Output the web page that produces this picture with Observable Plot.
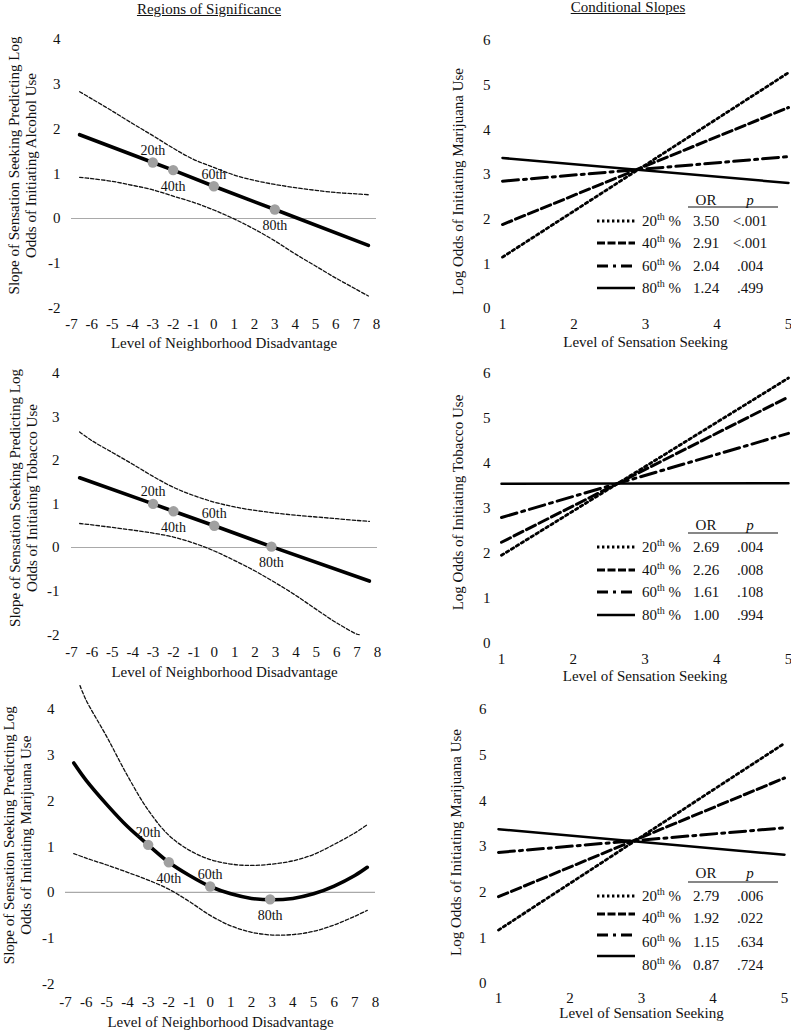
<!DOCTYPE html>
<html>
<head>
<meta charset="utf-8">
<script src="https://cdn.jsdelivr.net/npm/d3@7"></script>
<script src="https://cdn.jsdelivr.net/npm/@observablehq/plot@0.6"></script>
<style>
  html, body { margin: 0; padding: 0; background: #fff; }
  #root { position: relative; width: 791px; height: 1030px; overflow: hidden; background: #fff;
          font-family: "Liberation Serif", "Times New Roman", Times, serif; color: #111; }
  .colhead { position: absolute; font-size: 15px; line-height: 15px; text-decoration: underline;
             transform: translateX(-50%); white-space: nowrap; }
</style>
</head>
<body>
<div id="root"></div>
<script>
// ================= DATA =================
const pctLabels = ["20th", "40th", "60th", "80th"];
const pctNums = ["20", "40", "60", "80"];

const xTicksLeft = [-7, -6, -5, -4, -3, -2, -1, 0, 1, 2, 3, 4, 5, 6, 7, 8];
const yTicksLeft = [-2, -1, 0, 1, 2, 3, 4];
const xTicksRight = [1, 2, 3, 4, 5];
const yTicksRight = [0, 1, 2, 3, 4, 5, 6];

const headLeft = "Regions of Significance";
const headRight = "Conditional Slopes";
const xTitleLeft = "Level of Neighborhood Disadvantage";
const xTitleRight = "Level of Sensation Seeking";

// --- Regions of significance: Alcohol ---
const alcTitle = "Slope of Sensation Seeking Predicting Log\nOdds of Initiating Alcohol Use";
const alcMainX = [-6.6, -3, -2, 0, 3, 7.6];
const alcMainY = [1.87, 1.25, 1.08, 0.72, 0.2, -0.6];
const alcPtX = [-3, -2, 0, 3];
const alcPtY = [1.25, 1.08, 0.72, 0.2];
const alcUpX = [-6.6, -6, -5, -4, -3, -2, -1, 0, 1, 2, 3, 4, 5, 6, 7, 7.6];
const alcUpY = [2.83, 2.67, 2.40, 2.12, 1.85, 1.57, 1.32, 1.14, 0.97, 0.85, 0.76, 0.69, 0.63, 0.58, 0.55, 0.53];
const alcLoX = [-6.6, -6, -5, -4, -3, -2, -1, 0, 1, 2, 3, 4, 5, 6, 7, 7.6];
const alcLoY = [0.92, 0.89, 0.83, 0.74, 0.64, 0.50, 0.36, 0.19, -0.01, -0.24, -0.5, -0.79, -1.06, -1.33, -1.58, -1.73];

// --- Regions of significance: Tobacco ---
const tobTitle = "Slope of Sensation Seeking Predicting Log\nOdds of Initiating Tobacco Use";
const tobMainX = [-6.6, -3, -2, 0, 2.8, 7.6];
const tobMainY = [1.6, 1.0, 0.83, 0.5, 0.02, -0.77];
const tobPtX = [-3, -2, 0, 2.8];
const tobPtY = [1.0, 0.83, 0.5, 0.02];
const tobUpX = [-6.6, -6, -5, -4, -3, -2, -1, 0, 1, 2, 3, 4, 5, 6, 7, 7.6];
const tobUpY = [2.65, 2.45, 2.18, 1.91, 1.63, 1.38, 1.19, 1.04, 0.93, 0.85, 0.79, 0.74, 0.70, 0.66, 0.62, 0.60];
const tobLoX = [-6.6, -6, -5, -4, -3, -2, -1, 0, 1, 2, 3, 4, 5, 6, 7, 7.1];
const tobLoY = [0.55, 0.52, 0.46, 0.40, 0.33, 0.24, 0.10, -0.08, -0.30, -0.54, -0.81, -1.10, -1.42, -1.73, -1.99, -2.0];

// --- Regions of significance: Marijuana ---
const marTitle = "Slope of Sensation Seeking Predicting Log\nOdds of Initiating Marijuana Use";
const marMainX = [-6.6, -6, -5, -4, -3, -2, -1, 0, 1, 2, 3, 4, 5, 6, 7, 7.6];
const marMainY = [2.83, 2.45, 1.92, 1.44, 1.04, 0.66, 0.37, 0.13, -0.03, -0.13, -0.16, -0.13, -0.03, 0.14, 0.37, 0.55];
const marPtX = [-3, -2, 0, 2.9];
const marPtY = [1.04, 0.66, 0.13, -0.15];
const marUpX = [-6.3, -6, -5, -4, -3, -2, -1, 0, 1, 2, 3, 4, 5, 6, 7, 7.6];
const marUpY = [4.52, 4.2, 3.4, 2.55, 1.8, 1.25, 0.92, 0.72, 0.62, 0.59, 0.62, 0.69, 0.83, 1.05, 1.3, 1.48];
const marLoX = [-6.6, -6, -5, -4, -3, -2, -1, 0, 1, 2, 3, 4, 5, 6, 7, 7.6];
const marLoY = [0.85, 0.75, 0.6, 0.44, 0.27, 0.07, -0.2, -0.5, -0.73, -0.87, -0.93, -0.92, -0.85, -0.71, -0.52, -0.39];

// --- Conditional slopes (x = 1 and x = 5 endpoints per percentile) ---
const slopeX = [1, 5];
const csMarATitle = "Log Odds of Initiating Marijuana Use";
const csMarA = [[1.15, 5.28], [1.88, 4.5], [2.85, 3.40], [3.37, 2.81]];
const csMarA_OR = ["3.50", "2.91", "2.04", "1.24"];
const csMarA_p = ["<.001", "<.001", ".004", ".499"];

const csTobTitle = "Log Odds of Initiating Tobacco Use";
const csTob = [[1.96, 5.9], [2.25, 5.48], [2.8, 4.67], [3.55, 3.56]];
const csTob_OR = ["2.69", "2.26", "1.61", "1.00"];
const csTob_p = [".004", ".008", ".108", ".994"];

const csMarBTitle = "Log Odds of Initiating Marijuana Use";
const csMarB = [[1.17, 5.26], [1.9, 4.5], [2.87, 3.41], [3.38, 2.82]];
const csMarB_OR = ["2.79", "1.92", "1.15", "0.87"];
const csMarB_p = [".006", ".022", ".634", ".724"];

// ================= STYLE / LAYOUT =================
const FONT = '"Liberation Serif", "Times New Roman", Times, serif';
const INK = "#111";
const lineStyles = [
  {dash: "2.6 3.2", width: 2.8},
  {dash: "10 4", width: 3},
  {dash: "16 5 3 5", width: 3},
  {dash: null, width: 2.5}
];
const legendDash = ["2.4 2.6", "8 2.5", "11 5 3 5", null];

const layoutLeft = [
  {top: 0,   left: 0, w: 395, h: 350, ml: 71, mr: 19, mt: 16.4, mb: 42.4, xPad: 10, yPad: 11, xtDy: 35, ytDx: -49, ytDy: 3},
  {top: 340, left: 0, w: 395, h: 350, ml: 71, mr: 18, mt: 10.8, mb: 55.8, xPad: 12, yPad: 12, xtDy: 37.5, ytDx: -48, ytDy: 5},
  {top: 680, left: 0, w: 395, h: 350, ml: 65, mr: 20, mt: 6, mb: 46.5, xPad: 12.5, yPad: 11, xtDy: 38.5, ytDx: -48, ytDy: 0}
];
const layoutRight = [
  {top: 0,   left: 395, w: 396, h: 350, ml: 107, mr: 3, mt: 40, mb: 42, xPad: 10, yPad: 12, xtDy: 34, ytDx: -45, ytDy: 7,
   leg: {headY: 200, ulY: 207, rowY: [221, 243, 266, 288], sampleY: [221, 243, 266, 288]}},
  {top: 340, left: 395, w: 396, h: 350, ml: 106, mr: 3, mt: 33, mb: 47, xPad: 10.3, yPad: 11, xtDy: 32.5, ytDx: -44, ytDy: -6,
   leg: {headY: 185, ulY: 193, rowY: [207, 230, 252, 275], sampleY: [207, 230, 252, 275]}},
  {top: 680, left: 395, w: 396, h: 350, ml: 103, mr: 7, mt: 29, mb: 47, xPad: 8.5, yPad: 12, xtDy: 30, ytDx: -43, ytDy: -4,
   leg: {headY: 193, ulY: 202, rowY: [216, 238, 262, 285], sampleY: [216, 234, 255, 276]}}
];
const legX = {sx1: 202, sx2: 240, labX: 247, orX: 311, pX: 355, ulX1: 293, ulX2: 383};
const headPos = [{cx: 209, top: 2}, {cx: 628, top: 0}];

// ================= DRAWING =================
const root = document.getElementById("root");

function mount(svg, left, top) {
  svg.style.position = "absolute";
  svg.style.left = left + "px";
  svg.style.top = top + "px";
  svg.style.overflow = "visible";
  svg.style.background = "transparent";
  svg.style.maxWidth = "none";
  root.appendChild(svg);
  return svg;
}
function pairs(xs, ys) { return xs.map((x, i) => ({x, y: ys[i]})); }
const baseStyle = {fontFamily: FONT, fontSize: "15px", color: INK, background: "transparent", overflow: "visible"};

function titleMarks(xTitle, yTitle, L) {
  return [
    Plot.text([xTitle], {text: t => t, frameAnchor: "bottom", textAnchor: "middle", lineAnchor: "middle", dy: L.xtDy, fill: INK}),
    Plot.text([yTitle], {text: t => t, frameAnchor: "left", textAnchor: "middle", lineAnchor: "middle", rotate: -90,
      dx: L.ytDx, dy: L.ytDy, lineHeight: 1.13, fill: INK})
  ];
}

function regionPanel(d, L) {
  const pts = d.ptX.map((x, i) => ({x, y: d.ptY[i], label: pctLabels[i], above: i % 2 === 0}));
  const curve = d.curved ? "catmull-rom" : "linear";
  return Plot.plot({
    width: L.w, height: L.h,
    marginLeft: L.ml, marginRight: L.mr, marginTop: L.mt, marginBottom: L.mb,
    x: {domain: [-7, 8], ticks: xTicksLeft, tickSize: 0, tickPadding: L.xPad, tickFormat: v => String(v), label: null},
    y: {domain: [-2, 4.5], ticks: yTicksLeft, tickSize: 0, tickPadding: L.yPad, tickFormat: v => String(v), label: null},
    style: baseStyle,
    marks: [
      Plot.ruleY([0], {stroke: "#a9a9a9", strokeWidth: 1.2}),
      Plot.line(pairs(d.upX, d.upY), {x: "x", y: "y", stroke: INK, strokeWidth: 1.3, strokeDasharray: "3.5 2", curve: "catmull-rom"}),
      Plot.line(pairs(d.loX, d.loY), {x: "x", y: "y", stroke: INK, strokeWidth: 1.3, strokeDasharray: "3.5 2", curve: "catmull-rom"}),
      Plot.line(pairs(d.mainX, d.mainY), {x: "x", y: "y", stroke: "#000", strokeWidth: 3.6, curve}),
      Plot.dot(pts, {x: "x", y: "y", r: 5.2, fill: "#a0a0a0", stroke: "none"}),
      Plot.text(pts.filter(p => p.above), {x: "x", y: "y", text: "label", dy: -12, fontSize: 14, fill: INK}),
      Plot.text(pts.filter(p => !p.above), {x: "x", y: "y", text: "label", dy: 16, fontSize: 14, fill: INK}),
      ...titleMarks(xTitleLeft, d.title, L)
    ]
  });
}

function slopePanel(d, L) {
  const series = d.lines.map((ys, i) => slopeX.map((x, j) => ({x, y: ys[j], pct: pctLabels[i]})));
  const svg = Plot.plot({
    width: L.w, height: L.h,
    marginLeft: L.ml, marginRight: L.mr, marginTop: L.mt, marginBottom: L.mb,
    x: {domain: [1, 5], ticks: xTicksRight, tickSize: 0, tickPadding: L.xPad, tickFormat: v => String(v), label: null},
    y: {domain: [0, 6], ticks: yTicksRight, tickSize: 0, tickPadding: L.yPad, tickFormat: v => String(v), label: null},
    style: baseStyle,
    marks: [
      ...series.map((s, i) => Plot.line(s, {x: "x", y: "y", stroke: "#000",
        strokeWidth: lineStyles[i].width, strokeDasharray: lineStyles[i].dash || undefined})),
      ...titleMarks(xTitleRight, d.title, L)
    ]
  });
  // legend table
  const G = L.leg;
  const g = d3.select(svg).append("g").attr("font-family", FONT).attr("font-size", 15).attr("fill", INK);
  g.append("text").attr("x", legX.orX).attr("y", G.headY + 5).attr("text-anchor", "middle").text("OR");
  g.append("text").attr("x", legX.pX).attr("y", G.headY + 5).attr("text-anchor", "middle").attr("font-style", "italic").text("p");
  g.append("line").attr("x1", legX.ulX1).attr("x2", legX.ulX2).attr("y1", G.ulY).attr("y2", G.ulY)
    .attr("stroke", INK).attr("stroke-width", 1.2);
  pctNums.forEach((n, i) => {
    const y = G.rowY[i];
    const ln = g.append("line").attr("x1", legX.sx1).attr("x2", legX.sx2)
      .attr("y1", G.sampleY[i]).attr("y2", G.sampleY[i])
      .attr("stroke", "#000").attr("stroke-width", lineStyles[i].width);
    if (legendDash[i]) ln.attr("stroke-dasharray", legendDash[i]);
    const t = g.append("text").attr("x", legX.labX).attr("y", y + 5).attr("text-anchor", "start");
    t.append("tspan").text(n);
    t.append("tspan").attr("font-size", 10).attr("dy", -6).text("th");
    t.append("tspan").attr("dy", 6).text(" %");
    g.append("text").attr("x", legX.orX).attr("y", y + 5).attr("text-anchor", "middle").text(d.or[i]);
    g.append("text").attr("x", legX.pX).attr("y", y + 5).attr("text-anchor", "middle").text(d.p[i]);
  });
  return svg;
}

// column headings
[headLeft, headRight].forEach((txt, i) => {
  const div = document.createElement("div");
  div.className = "colhead";
  div.style.left = headPos[i].cx + "px";
  div.style.top = headPos[i].top + "px";
  div.textContent = txt;
  root.appendChild(div);
});

const regionData = [
  {title: alcTitle, mainX: alcMainX, mainY: alcMainY, ptX: alcPtX, ptY: alcPtY, upX: alcUpX, upY: alcUpY, loX: alcLoX, loY: alcLoY, curved: false},
  {title: tobTitle, mainX: tobMainX, mainY: tobMainY, ptX: tobPtX, ptY: tobPtY, upX: tobUpX, upY: tobUpY, loX: tobLoX, loY: tobLoY, curved: false},
  {title: marTitle, mainX: marMainX, mainY: marMainY, ptX: marPtX, ptY: marPtY, upX: marUpX, upY: marUpY, loX: marLoX, loY: marLoY, curved: true}
];
const slopeData = [
  {title: csMarATitle, lines: csMarA, or: csMarA_OR, p: csMarA_p},
  {title: csTobTitle, lines: csTob, or: csTob_OR, p: csTob_p},
  {title: csMarBTitle, lines: csMarB, or: csMarB_OR, p: csMarB_p}
];

regionData.forEach((d, i) => {
  const L = layoutLeft[i];
  mount(regionPanel(d, L), L.left, L.top);
});
slopeData.forEach((d, i) => {
  const L = layoutRight[i];
  mount(slopePanel(d, L), L.left, L.top);
});
</script>
</body>
</html>
